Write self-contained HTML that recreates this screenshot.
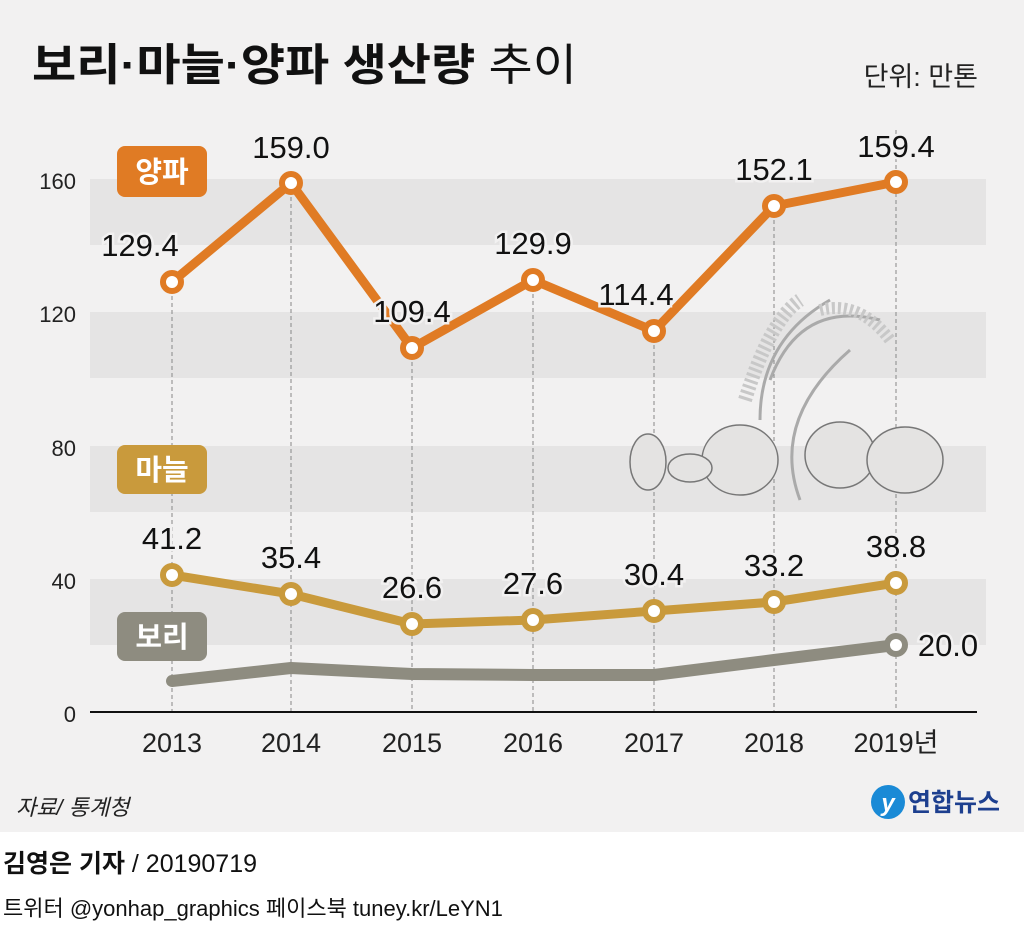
<!DOCTYPE html>
<html><head><meta charset="utf-8"><style>
body{margin:0;width:1024px;height:926px;background:#fff;overflow:hidden;font-family:"Liberation Sans","Noto Sans CJK KR",sans-serif}
</style></head><body>
<svg width="1024" height="926" xmlns="http://www.w3.org/2000/svg" style="font-family:'Liberation Sans','Noto Sans CJK KR',sans-serif">
<rect x="0" y="0" width="1024" height="832" fill="#f2f1f1"/>
<text x="32" y="80" font-size="44" font-weight="bold" fill="#111" textLength="545" lengthAdjust="spacingAndGlyphs">보리·마늘·양파 생산량 <tspan font-weight="normal">추이</tspan></text>
<text x="978" y="86" font-size="27" fill="#222" text-anchor="end">단위: 만톤</text>
<g fill="#e5e4e4">
<rect x="90" y="179" width="896" height="66"/><rect x="90" y="312" width="896" height="66"/>
<rect x="90" y="446" width="896" height="66"/><rect x="90" y="579" width="896" height="66"/>
</g>
<g font-size="22" fill="#222" text-anchor="end">
<text x="76" y="189">160</text><text x="76" y="322">120</text><text x="76" y="456">80</text><text x="76" y="589">40</text><text x="76" y="722">0</text>
</g>
<g stroke="#888" stroke-width="1" stroke-dasharray="4,3">
<line x1="172" y1="282" x2="172" y2="712"/><line x1="291" y1="183" x2="291" y2="712"/><line x1="412" y1="348" x2="412" y2="712"/><line x1="533" y1="280" x2="533" y2="712"/><line x1="654" y1="331" x2="654" y2="712"/><line x1="774" y1="206" x2="774" y2="712"/><line x1="896" y1="130" x2="896" y2="712"/>
</g>
<line x1="90" y1="712" x2="977" y2="712" stroke="#111" stroke-width="2"/>
<g font-size="27" fill="#222" text-anchor="middle">
<text x="172" y="752">2013</text><text x="291" y="752">2014</text><text x="412" y="752">2015</text><text x="533" y="752">2016</text><text x="654" y="752">2017</text><text x="774" y="752">2018</text><text x="896" y="752">2019년</text>
</g>
<!-- decorative illustration -->
<g fill="none" stroke="#aaa" stroke-width="3">
<path d="M760 420 Q760 340 830 300"/><path d="M800 500 Q770 420 850 350"/><path d="M770 380 Q800 300 880 320"/>
<path d="M745 400 Q770 320 800 300" stroke-width="14" stroke="#c8c8c8" stroke-dasharray="3,3"/>
<path d="M820 310 Q860 300 890 340" stroke-width="12" stroke="#c8c8c8" stroke-dasharray="3,3"/>
</g>
<g fill="#e4e3e2" stroke="#777" stroke-width="1.5">
<ellipse cx="740" cy="460" rx="38" ry="35"/><ellipse cx="840" cy="455" rx="35" ry="33"/><ellipse cx="905" cy="460" rx="38" ry="33"/><ellipse cx="648" cy="462" rx="18" ry="28"/><ellipse cx="690" cy="468" rx="22" ry="14"/>
</g>
<polyline points="172,681 291,668 412,674 533,675 654,675 774,660 896,645" fill="none" stroke="#8e8c80" stroke-width="12" stroke-linejoin="round" stroke-linecap="round"/>
<polyline points="172,575 291,594 412,624 533,620 654,611 774,602 896,583" fill="none" stroke="#c99a3c" stroke-width="9" stroke-linejoin="round"/>
<polyline points="172,282 291,183 412,348 533,280 654,331 774,206 896,182" fill="none" stroke="#e07b24" stroke-width="9" stroke-linejoin="round"/>
<g fill="#fff" stroke-width="6">
<g stroke="#e07b24"><circle cx="172" cy="282" r="9"/><circle cx="291" cy="183" r="9"/><circle cx="412" cy="348" r="9"/><circle cx="533" cy="280" r="9"/><circle cx="654" cy="331" r="9"/><circle cx="774" cy="206" r="9"/><circle cx="896" cy="182" r="9"/></g>
<g stroke="#c99a3c"><circle cx="172" cy="575" r="9"/><circle cx="291" cy="594" r="9"/><circle cx="412" cy="624" r="9"/><circle cx="533" cy="620" r="9"/><circle cx="654" cy="611" r="9"/><circle cx="774" cy="602" r="9"/><circle cx="896" cy="583" r="9"/></g>
<circle cx="896" cy="645" r="9" stroke="#8e8c80"/>
</g>
<g font-size="31" fill="#111" text-anchor="middle" stroke="#f2f1f1" stroke-width="5" paint-order="stroke">
<text x="140" y="256">129.4</text><text x="291" y="158">159.0</text><text x="412" y="322">109.4</text><text x="533" y="254">129.9</text><text x="636" y="305">114.4</text><text x="774" y="180">152.1</text><text x="896" y="157">159.4</text>
<text x="172" y="549">41.2</text><text x="291" y="568">35.4</text><text x="412" y="598">26.6</text><text x="533" y="594">27.6</text><text x="654" y="585">30.4</text><text x="774" y="576">33.2</text><text x="896" y="557">38.8</text>
<text x="948" y="656">20.0</text>
</g>
<rect x="117" y="146" width="90" height="51" rx="8" fill="#e07b24"/>
<text x="162" y="182" font-size="29" font-weight="bold" fill="#fff" text-anchor="middle">양파</text>
<rect x="117" y="445" width="90" height="49" rx="8" fill="#c99a3c"/>
<text x="162" y="480" font-size="29" font-weight="bold" fill="#fff" text-anchor="middle">마늘</text>
<rect x="117" y="612" width="90" height="49" rx="8" fill="#8e8c80"/>
<text x="162" y="647" font-size="29" font-weight="bold" fill="#fff" text-anchor="middle">보리</text>
<text x="16" y="815" font-size="22" font-style="italic" fill="#222">자료/ 통계청</text>
<circle cx="888" cy="802" r="17" fill="#1a8ad6"/>
<text x="888" y="811" font-size="24" font-style="italic" font-weight="bold" fill="#fff" text-anchor="middle">y</text>
<text x="908" y="811" font-size="25" font-weight="bold" fill="#1d3f8f">연합뉴스</text>
<text x="3" y="872" font-size="25" fill="#111"><tspan font-weight="bold">김영은 기자</tspan> / 20190719</text>
<text x="3" y="916" font-size="22" fill="#111">트위터 @yonhap_graphics  페이스북 tuney.kr/LeYN1</text>
</svg>
</body></html>
